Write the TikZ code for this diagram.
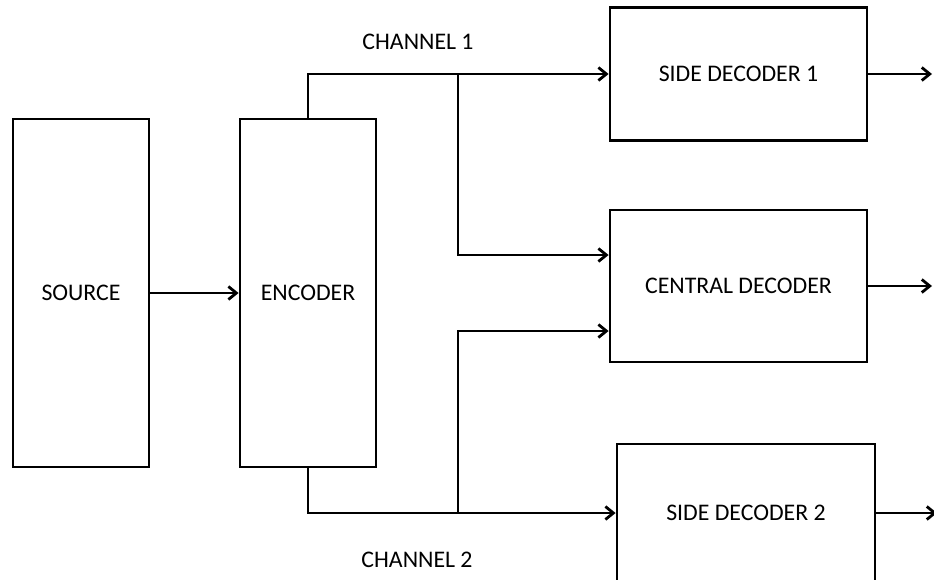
\documentclass[tikz,border=0pt]{standalone}
\usepackage{fontspec}
\setmainfont{Carlito}
\usetikzlibrary{arrows.meta}
\begin{document}
\begin{tikzpicture}[x=1pt, y=-1pt, line width=2.8pt,
		font=\fontsize{23.8}{28}\selectfont,
		block/.style = {draw, rectangle, inner sep=0pt},
		tall/.style = {block, minimum width=136pt, minimum height=348pt},
		wide/.style = {block, minimum width=257pt, minimum height=133pt},
		conn/.style = {-{Straight Barb[length=8pt, width=13pt, line width=2.8pt]}}]

			\clip (0,0) rectangle (934,579);

			\node[tall] (src) at (81,293) {SOURCE};
			\node[tall] (enc) at (308,293) {ENCODER};
			\node[wide] (sd1) at (738.5,74) {SIDE DECODER 1};
			\node[wide, minimum height=152pt] (cd) at (738.5,286) {CENTRAL DECODER};
			\node[wide, minimum width=258pt, minimum height=138pt] (sd2) at (746,513) {SIDE DECODER 2};

			\node (ch1) at (418,42) {CHANNEL 1};
			\node (ch2) at (417,560) {CHANNEL 2};

			\coordinate (c1) at (308,74);
			\coordinate (b1) at (458,74);
			\coordinate (c2) at (308,513);
			\coordinate (b2) at (458,513);
			\coordinate (out) at (932,0);
			\coordinate (cut) at (937,0);

			\draw[conn] (src) -- (enc);
			\draw[conn] (enc.north) -- (c1) -- (sd1.west);
			\draw[conn] (b1) |- ([yshift=31pt]cd.west);
			\draw[conn] (enc.south) -- (c2) -- (sd2.west);
			\draw[conn] (b2) |- ([yshift=-45pt]cd.west);
			\draw[conn] (sd1.east) -- (sd1.east -| out);
			\draw[conn] (cd.east) -- (cd.east -| out);
			\draw[conn] (sd2.east) -- (sd2.east -| cut);
		\end{tikzpicture}
\end{document}
